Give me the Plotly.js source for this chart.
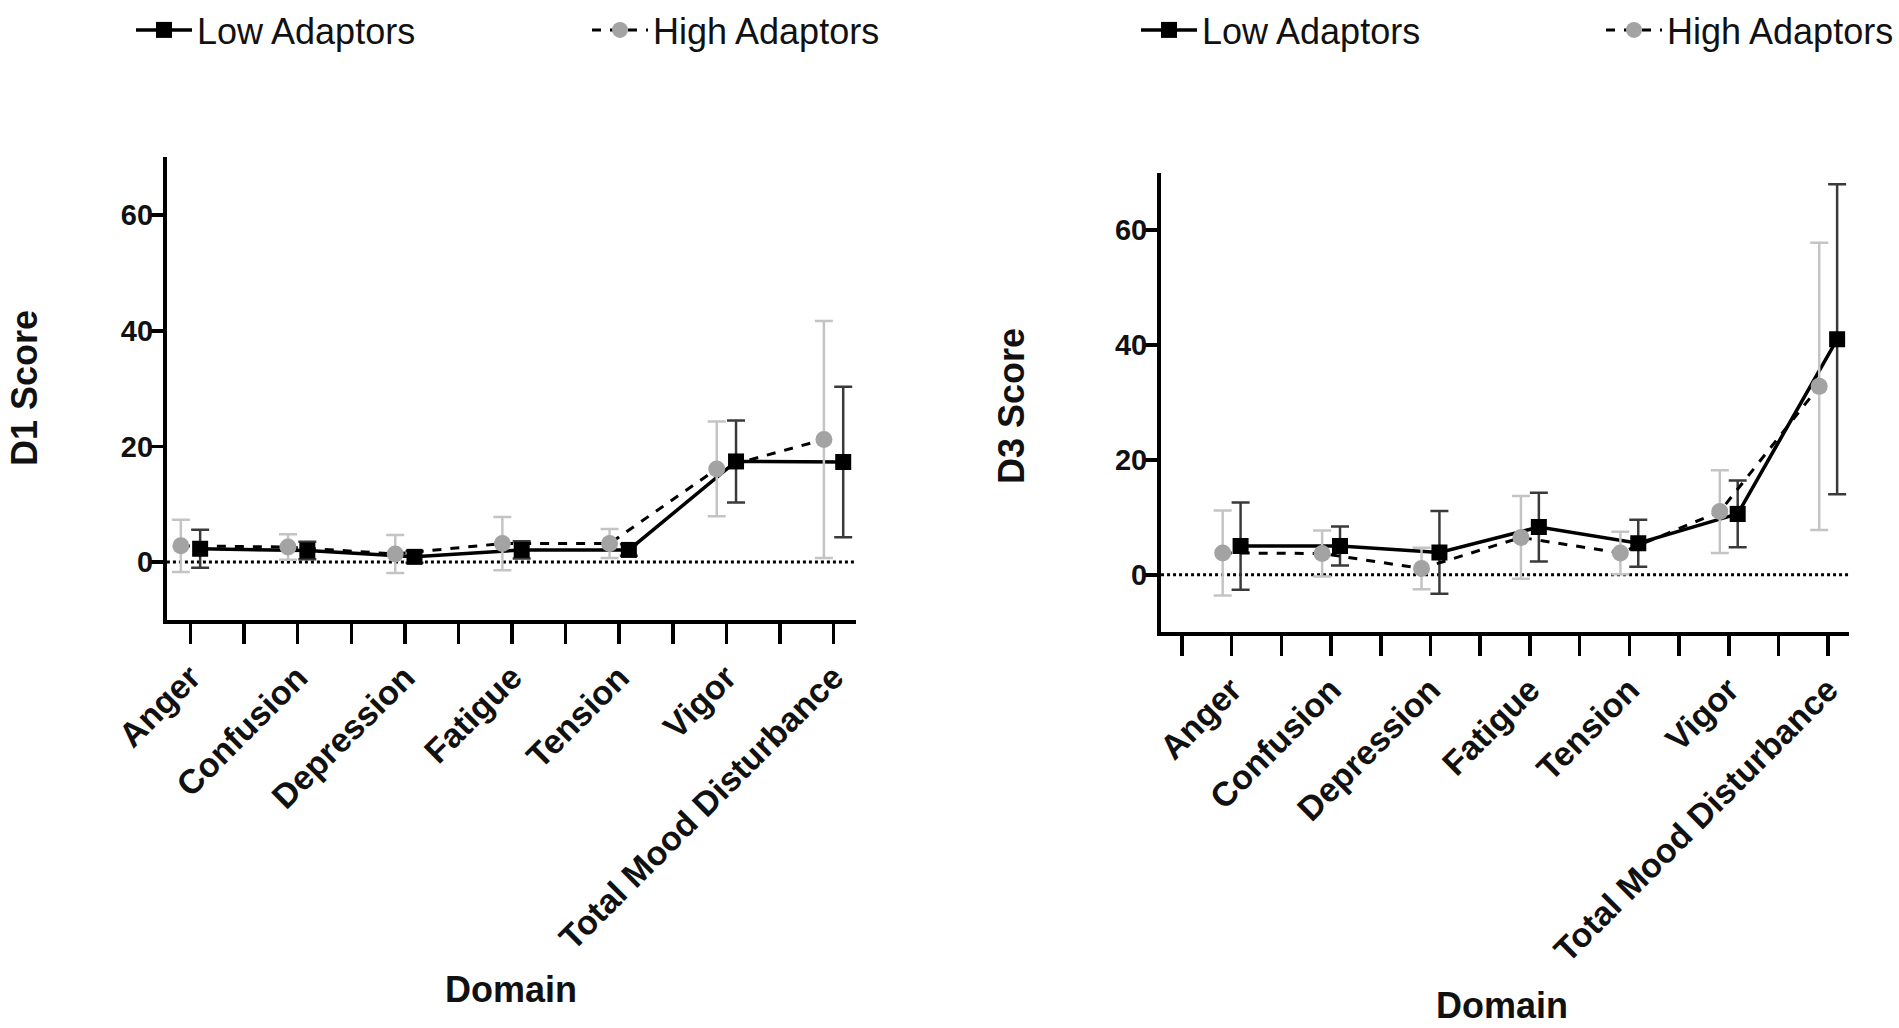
<!DOCTYPE html>
<html>
<head>
<meta charset="utf-8">
<script src="https://cdn.plot.ly/plotly-3.0.1.min.js"></script>
<style>
  html, body { margin: 0; padding: 0; background: #fff; }
  #chart { width: 1899px; height: 1028px; }
</style>
</head>
<body>
<div id="chart"></div>
<script>
// POMS domains
var domains = ['Anger', 'Confusion', 'Depression', 'Fatigue', 'Tension', 'Vigor', 'Total Mood Disturbance'];

// D1 scores (mean, SD)
var d1LowMean  = [2.3, 2.0, 0.9, 2.1, 2.1, 17.4, 17.3];
var d1LowSd    = [3.3, 1.5, 1.0, 1.5, 1.0, 7.1, 13.0];
var d1HighMean = [2.8, 2.6, 1.4, 3.2, 3.2, 16.1, 21.2];
var d1HighSd   = [4.5, 2.2, 3.3, 4.6, 2.5, 8.2, 20.5];

// D3 scores (mean, SD)
var d3LowMean  = [5.0, 5.0, 3.9, 8.3, 5.5, 10.6, 41.0];
var d3LowSd    = [7.6, 3.4, 7.2, 6.0, 4.1, 5.8, 27.0];
var d3HighMean = [3.8, 3.7, 1.1, 6.5, 3.8, 11.0, 32.8];
var d3HighSd   = [7.4, 4.0, 3.6, 7.2, 3.7, 7.2, 25.0];

var font = 'Liberation Sans, Arial, Helvetica, sans-serif';

// groups are nudged left/right of each category like in the original
function shifted(dx) {
  return domains.map(function(d, i) { return i + dx; });
}

function lowTrace(mean, sd, xa, ya, leg) {
  return {
    name: 'Low Adaptors',
    x: shifted(0.09),
    y: mean,
    xaxis: xa, yaxis: ya,
    legend: leg,
    mode: 'lines+markers',
    type: 'scatter',
    line: { color: '#000000', width: 3.5 },
    marker: { symbol: 'square', color: '#000000', size: 16 },
    error_y: { type: 'data', array: sd, visible: true, color: '#3a3a3a', thickness: 2.5, width: 9 },
  };
}

function highTrace(mean, sd, xa, ya, leg) {
  return {
    name: 'High Adaptors',
    x: shifted(-0.09),
    y: mean,
    xaxis: xa, yaxis: ya,
    legend: leg,
    mode: 'lines+markers',
    type: 'scatter',
    line: { color: '#000000', width: 3, dash: 'dash' },
    marker: { symbol: 'circle', color: '#a3a3a3', size: 17 },
    error_y: { type: 'data', array: sd, visible: true, color: '#c4c4c4', thickness: 2.5, width: 9 },
  };
}

// tick marks every half category, labels only on whole ones
function xTicks(start) {
  var vals = [], text = [];
  for (var v = start; v <= 6; v += 0.5) {
    vals.push(v);
    text.push(v % 1 === 0 ? domains[v] : '');
  }
  return { vals: vals, text: text };
}

var ticksLeft = xTicks(0);
var ticksRight = xTicks(-0.5);

function xAxis(domain, range, ticks) {
  return {
    domain: domain,
    range: range,
    tickmode: 'array',
    tickvals: ticks.vals,
    ticktext: ticks.text,
    tickangle: -45,
    ticks: 'outside',
    ticklen: 20,
    tickwidth: 3.5,
    tickcolor: '#000',
    showline: true,
    linewidth: 4,
    linecolor: '#000',
    showgrid: false,
    zeroline: false,
    tickfont: { family: font, size: 34, color: '#111', weight: 'bold' },
  };
}

function yAxis(domain, anchor) {
  return {
    domain: domain,
    anchor: anchor,
    range: [-10, 70],
    tickvals: [0, 20, 40, 60],
    ticks: 'outside',
    ticklen: 12,
    tickwidth: 3.5,
    tickcolor: '#000',
    ticklabelstandoff: -8,
    showline: true,
    linewidth: 4,
    linecolor: '#000',
    showgrid: false,
    zeroline: false,
    tickfont: { family: font, size: 29, color: '#111', weight: 'bold' },
  };
}

var traces = [
  lowTrace(d1LowMean, d1LowSd, 'x', 'y', 'legend'),
  highTrace(d1HighMean, d1HighSd, 'x', 'y', 'legend2'),
  lowTrace(d3LowMean, d3LowSd, 'x2', 'y2', 'legend3'),
  highTrace(d3HighMean, d3HighSd, 'x2', 'y2', 'legend4'),
];

// one legend per entry so every item sits where the original has it
function legendAt(x, anchor) {
  return {
    orientation: 'h',
    yanchor: 'top',
    y: 1,
    x: x,
    xanchor: anchor || 'left',
    itemwidth: 56,
    font: { family: font, size: 36, color: '#111' },
    bgcolor: 'rgba(0,0,0,0)',
  };
}

var titleFont = { family: font, size: 36, color: '#111', weight: 'bold' };

var layout = {
  width: 1899,
  height: 1028,
  margin: { l: 0, r: 0, t: 0, b: 0 },
  paper_bgcolor: '#ffffff',
  plot_bgcolor: '#ffffff',
  showlegend: true,
  xaxis: xAxis([0.0879, 0.4508], [-0.22, 6.21], ticksLeft),
  yaxis: yAxis([0.397, 0.847], 'x'),
  xaxis2: Object.assign(xAxis([0.6114, 0.9737], [-0.71, 6.21], ticksRight), { anchor: 'y2' }),
  yaxis2: yAxis([0.385, 0.832], 'x2'),
  legend: legendAt(131 / 1899),
  legend2: legendAt(587 / 1899),
  legend3: legendAt(1136 / 1899),
  legend4: legendAt(1, 'right'),
  shapes: [
    { type: 'line', xref: 'x domain', yref: 'y', x0: 0, x1: 1, y0: 0, y1: 0,
      line: { color: '#000', width: 3, dash: 'dot' }, layer: 'below' },
    { type: 'line', xref: 'x2 domain', yref: 'y2', x0: 0, x1: 1, y0: 0, y1: 0,
      line: { color: '#000', width: 3, dash: 'dot' }, layer: 'below' },
  ],
  annotations: [
    { text: 'D1 Score', textangle: -90, xref: 'paper', yref: 'paper', xanchor: 'center', yanchor: 'middle',
      x: 24 / 1899, y: 1 - 388 / 1028, showarrow: false, font: titleFont },
    { text: 'Domain', xref: 'paper', yref: 'paper', xanchor: 'center', yanchor: 'middle',
      x: 511 / 1899, y: 1 - 989 / 1028, showarrow: false, font: titleFont },
    { text: 'D3 Score', textangle: -90, xref: 'paper', yref: 'paper', xanchor: 'center', yanchor: 'middle',
      x: 1012 / 1899, y: 1 - 406 / 1028, showarrow: false, font: titleFont },
    { text: 'Domain', xref: 'paper', yref: 'paper', xanchor: 'center', yanchor: 'middle',
      x: 1502 / 1899, y: 1 - 1005 / 1028, showarrow: false, font: titleFont },
  ],
};

Plotly.newPlot('chart', traces, layout, { displayModeBar: false, staticPlot: true });
</script>
</body>
</html>
